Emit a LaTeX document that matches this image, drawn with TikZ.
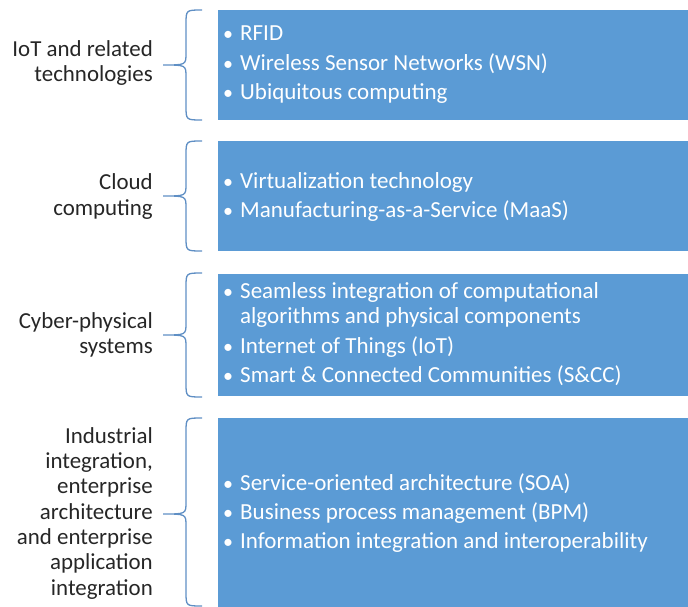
\documentclass[tikz,border=0pt]{standalone}
\usepackage{fontspec}
\setmainfont{Carlito}
\definecolor{boxblue}{HTML}{5B9BD5}
\definecolor{bracecol}{HTML}{5F8FC4}
\begin{document}
\begin{tikzpicture}[x=1pt,y=-1pt,
  box/.style={fill=boxblue,draw=none},
  brace/.style={draw=bracecol,line width=1.3pt},
  lbl/.style={anchor=base east,align=right,inner sep=0,text=black!85,font=\fontsize{22.9}{25.3}\selectfont},
  itm/.style={anchor=base west,align=left,inner sep=0,text=white,font=\fontsize{23}{25}\selectfont},
  bul/.style={anchor=base,inner sep=0,text=white,font=\fontsize{20}{25}\selectfont}]
\useasboundingbox (0,0) rectangle (688,607);
% boxes
\fill[box] (218,10) rectangle (688,120);
\fill[box] (218,141) rectangle (688,251);
\fill[box] (218,274) rectangle (688,396);
\fill[box] (218,418) rectangle (688,607);
% braces
\foreach \t/\m/\b in {10/65/120, 141/196/251, 273/335/397, 418/514/606}{
  \draw[brace] (202,\t) .. controls (186,\t) .. (186,\t+14)
    -- (186,\m-12) .. controls (186,\m) .. (163,\m)
    .. controls (186,\m) .. (186,\m+12)
    -- (186,\b-14) .. controls (186,\b) .. (202,\b);
}
% left labels (base anchor = last line)
\node[lbl] (l1) at (153,81.7) {IoT and related\\technologies};
\node[lbl] (l2) at (153,215) {Cloud\\computing};
\node[lbl] (l3) at (153,353.3) {Cyber-physical\\systems};
\node[lbl] (l4) at (153,595) {Industrial\\integration,\\enterprise\\architecture\\and enterprise\\application\\integration};
% items
\node[itm] (a1) at (240,41) {RFID};
\node[itm] (a2) at (240,70.5) {Wireless Sensor Networks (WSN)};
\node[itm] (a3) at (240,100) {Ubiquitous computing};
\node[itm] (b1) at (240,188.3) {Virtualization technology};
\node[itm] (b2) at (240,217.5) {Manufacturing-as-a-Service (MaaS)};
\node[itm] (c1) at (240,323.3) {Seamless integration of computational\\algorithms and physical components};
\node[itm] (c2) at (240,353) {Internet of Things (IoT)};
\node[itm] (c3) at (240,382.7) {Smart \& Connected Communities (S\&CC)};
\node[itm] (d1) at (240,490) {Service-oriented architecture (SOA)};
\node[itm] (d2) at (240,519.3) {Business process management (BPM)};
\node[itm] (d3) at (240,548.5) {Information integration and interoperability};
% bullets
\node[bul] (bul-c1) at (228,298.3) {•};
\foreach \n in {a1,a2,a3,b1,b2,c2,c3,d1,d2,d3}{
  \node[bul] (bul-\n) at ([xshift=-12pt]\n.base west) {•};
}
\end{tikzpicture}
\end{document}
